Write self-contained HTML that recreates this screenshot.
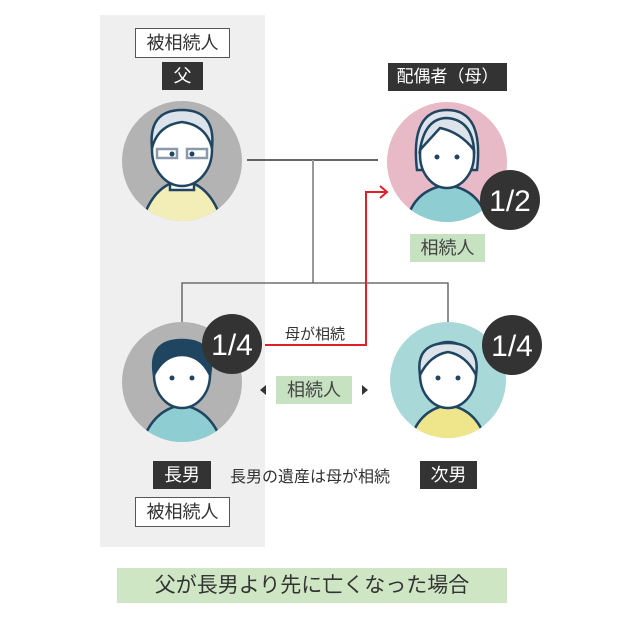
<!DOCTYPE html><html><head><meta charset="utf-8"><style>
body{margin:0;width:640px;height:636px;background:#fff;position:relative;overflow:hidden;font-family:"Liberation Sans","Noto Sans CJK JP",sans-serif}
.a{position:absolute}
.lb{position:absolute;text-align:center;font-size:18px;line-height:28px;box-sizing:border-box;white-space:nowrap;overflow:hidden}
.dk{background:#333;color:#fff}
.wb{background:#fff;border:1px solid #555;color:#333}
.gr{background:#c6e2c0;color:#444}
</style></head><body>
<div class="a" style="left:100px;top:15px;width:165px;height:532px;background:#efefef"></div>
<svg class="a" style="left:0;top:0" width="640" height="636">
<g stroke="#333" stroke-width="1.5" fill="none">
<line x1="247" y1="160" x2="378" y2="160"/>
</g>
<g stroke="#999" stroke-width="2" fill="none">
<line x1="313" y1="160" x2="313" y2="283"/>
<polyline points="182,322 182,283 448,283 448,322" stroke="#555" stroke-width="1.3"/>
</g>
<polyline points="265,345 366,345 366,192 386,192" stroke="#e0202a" stroke-width="2" fill="none"/>
<polyline points="380,186 387,192 380,198" stroke="#e0202a" stroke-width="2" fill="none"/>
<polygon points="266,390 260,385 260,395" fill="#333" transform="rotate(180 263 390)"/>
<polygon points="368,390 362,385 362,395" fill="#333"/>
<!-- father -->
<circle cx="182" cy="161" r="60" fill="#b3b3b3"/>
<clipPath id="c1"><circle cx="182" cy="161" r="60"/></clipPath>
<g clip-path="url(#c1)" stroke="#1f4560" stroke-width="2.5">
<path d="M140 230 Q150 185 182 180 Q214 185 224 230Z" fill="#f3edb7"/>
<rect x="170" y="170" width="24" height="20" fill="#fff"/>
<ellipse cx="182" cy="150" rx="30" ry="36" fill="#fff"/>
<path d="M152 148 Q148 110 182 110 Q216 110 212 148 Q206 125 182 122 Q158 125 152 148Z" fill="#dde3ea"/>
<rect x="157" y="149" width="20" height="9" fill="none" stroke="#8a9aaa"/><rect x="187" y="149" width="20" height="9" fill="none" stroke="#8a9aaa"/>
</g>
<!-- mother -->
<circle cx="447" cy="162" r="60" fill="#e8b9c6"/>
<clipPath id="c2"><circle cx="447" cy="162" r="60"/></clipPath>
<g clip-path="url(#c2)" stroke="#1f4560" stroke-width="2.5">
<path d="M405 230 Q410 190 447 185 Q484 190 489 230Z" fill="#8ecdd2"/>
<path d="M417 170 Q410 110 447 110 Q484 110 477 170Z" fill="#dde3ea"/>
<ellipse cx="447" cy="155" rx="27" ry="33" fill="#fff"/>
<path d="M420 150 Q425 118 447 118 Q472 120 474 150 Q460 132 440 128Z" fill="#dde3ea"/>
</g>
<!-- son1 -->
<circle cx="182" cy="382" r="60" fill="#b3b3b3"/>
<clipPath id="c3"><circle cx="182" cy="382" r="60"/></clipPath>
<g clip-path="url(#c3)" stroke="#1f4560" stroke-width="2.5">
<path d="M140 450 Q150 410 182 405 Q214 410 224 450Z" fill="#8ecdd2"/>
<ellipse cx="182" cy="375" rx="28" ry="33" fill="#fff"/>
<path d="M154 375 Q148 340 182 340 Q216 340 210 375 Q200 355 182 355 Q164 355 154 375Z" fill="#1f4560"/>
</g>
<!-- son2 -->
<circle cx="448" cy="380" r="58" fill="#a8d9d8"/>
<clipPath id="c4"><circle cx="448" cy="380" r="58"/></clipPath>
<g clip-path="url(#c4)" stroke="#1f4560" stroke-width="2.5">
<path d="M408 450 Q415 410 448 405 Q481 410 488 450Z" fill="#efe68c"/>
<ellipse cx="448" cy="375" rx="28" ry="33" fill="#fff"/>
<path d="M420 375 Q415 343 448 343 Q481 343 476 375 Q466 355 448 352 Q430 355 420 375Z" fill="#dde3ea"/>
</g>
<g fill="#1f4560">
<circle cx="172" cy="154" r="2.5"/><circle cx="192" cy="154" r="2.5"/>
<circle cx="437" cy="157" r="2.5"/><circle cx="457" cy="157" r="2.5"/>
<circle cx="172" cy="378" r="2.5"/><circle cx="192" cy="378" r="2.5"/>
<circle cx="438" cy="378" r="2.5"/><circle cx="458" cy="378" r="2.5"/>
</g>
<g fill="#333"><circle cx="510" cy="200" r="30"/><circle cx="232" cy="344" r="30"/><circle cx="512" cy="345" r="30"/></g>
<g fill="#fff" font-size="30" text-anchor="middle" font-family="Liberation Sans,sans-serif">
<text x="510" y="211">1/2</text><text x="232" y="355">1/4</text><text x="512" y="356">1/4</text></g>
<text x="315" y="339" font-size="15" fill="#333" text-anchor="middle">母が相続</text>
<text x="310" y="482" font-size="16" fill="#333" text-anchor="middle">長男の遺産は母が相続</text>
</svg>
<div class="lb wb" style="left:135px;top:28px;width:95px">被相続人</div>
<div class="lb dk" style="left:162px;top:62px;width:41px">父</div>
<div class="lb dk" style="left:388px;top:63px;width:119px;font-size:17px">配偶者（母）</div>
<div class="lb gr" style="left:410px;top:234px;width:75px">相続人</div>
<div class="lb gr" style="left:276px;top:376px;width:76px">相続人</div>
<div class="lb dk" style="left:153px;top:461px;width:58px">長男</div>
<div class="lb dk" style="left:420px;top:461px;width:57px">次男</div>
<div class="lb wb" style="left:135px;top:497px;width:95px">被相続人</div>
<div class="lb gr" style="left:117px;top:568px;width:390px;height:35px;line-height:35px;font-size:21px;color:#333;background:#cfe6c5">父が長男より先に亡くなった場合</div>
</body></html>
